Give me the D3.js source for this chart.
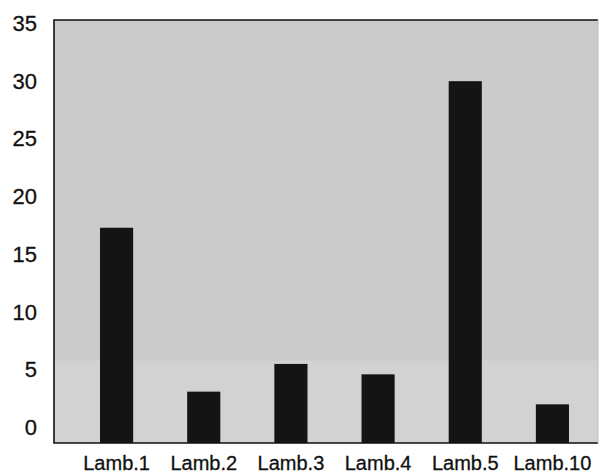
<!DOCTYPE html>
<html>
<head>
<meta charset="utf-8">
<script src="https://cdn.jsdelivr.net/npm/d3@7"></script>
<style>
  body { margin: 0; background: #fff; }
  svg { display: block; font-family: "Liberation Sans", Arial, sans-serif; }
</style>
</head>
<body>
<svg id="chart" width="601" height="474"></svg>
<script>
// data
var lambs = ["Lamb.1", "Lamb.2", "Lamb.3", "Lamb.4", "Lamb.5", "Lamb.10"];
var counts = [17.3, 3.1, 5.5, 4.6, 30.0, 2.0];
var yTicks = [0, 5, 10, 15, 20, 25, 30, 35];

var plotLeft = 54, plotRight = 598, plotTop = 20, plotBottom = 443;

var svg = d3.select("#chart");

// the zero line sits a bit above the frame bottom in the original
var y = d3.scaleLinear()
    .domain([-1.35, 35.3])
    .range([plotBottom, plotTop]);

var x = d3.scaleBand()
    .domain(lambs)
    .range([73, 596])
    .paddingInner(0.62)
    .paddingOuter(0.31);

// plot background (scan has a lighter band near the bottom)
svg.append("rect")
    .attr("x", plotLeft).attr("y", plotTop)
    .attr("width", plotRight - plotLeft).attr("height", plotBottom - plotTop)
    .attr("fill", "#cbcbcb");
svg.append("rect")
    .attr("x", plotLeft).attr("y", y(5.8))
    .attr("width", plotRight - plotLeft).attr("height", plotBottom - y(5.8))
    .attr("fill", "#d2d2d2");

// bars
svg.append("g")
    .selectAll("rect")
    .data(lambs)
    .enter()
    .append("rect")
    .attr("x", d => x(d))
    .attr("width", x.bandwidth())
    .attr("y", (d, i) => y(counts[i]))
    .attr("height", (d, i) => plotBottom - y(counts[i]))
    .attr("fill", "#141414");

// frame
svg.append("path")
    .attr("d", "M" + plotRight + "," + plotTop + "H" + plotLeft + "V" + plotBottom + "H" + plotRight)
    .attr("fill", "none")
    .attr("stroke", "#111")
    .attr("stroke-width", 1.6);
svg.append("line")
    .attr("x1", plotRight).attr("x2", plotRight)
    .attr("y1", plotTop).attr("y2", plotBottom)
    .attr("stroke", "#bbb")
    .attr("stroke-width", 1);

// y axis labels
var yAxis = d3.axisLeft(y)
    .tickValues(yTicks)
    .tickSize(0)
    .tickPadding(17);
var gy = svg.append("g")
    .attr("transform", "translate(" + plotLeft + ",0)")
    .call(yAxis);
gy.select(".domain").remove();
gy.selectAll("text")
    .attr("fill", "#111")
    .attr("stroke", "#111")
    .attr("stroke-width", 0.3)
    .style("font-size", "22px")
    .style("font-family", "'Liberation Sans', Arial, sans-serif");

// x axis labels
var xAxis = d3.axisBottom(x)
    .tickSize(0)
    .tickPadding(13);
var gx = svg.append("g")
    .attr("transform", "translate(0," + plotBottom + ")")
    .call(xAxis);
gx.select(".domain").remove();
gx.selectAll("text")
    .attr("fill", "#111")
    .attr("stroke", "#111")
    .attr("stroke-width", 0.3)
    .style("font-size", "20px")
    .style("font-family", "'Liberation Sans', Arial, sans-serif");
</script>
</body>
</html>
